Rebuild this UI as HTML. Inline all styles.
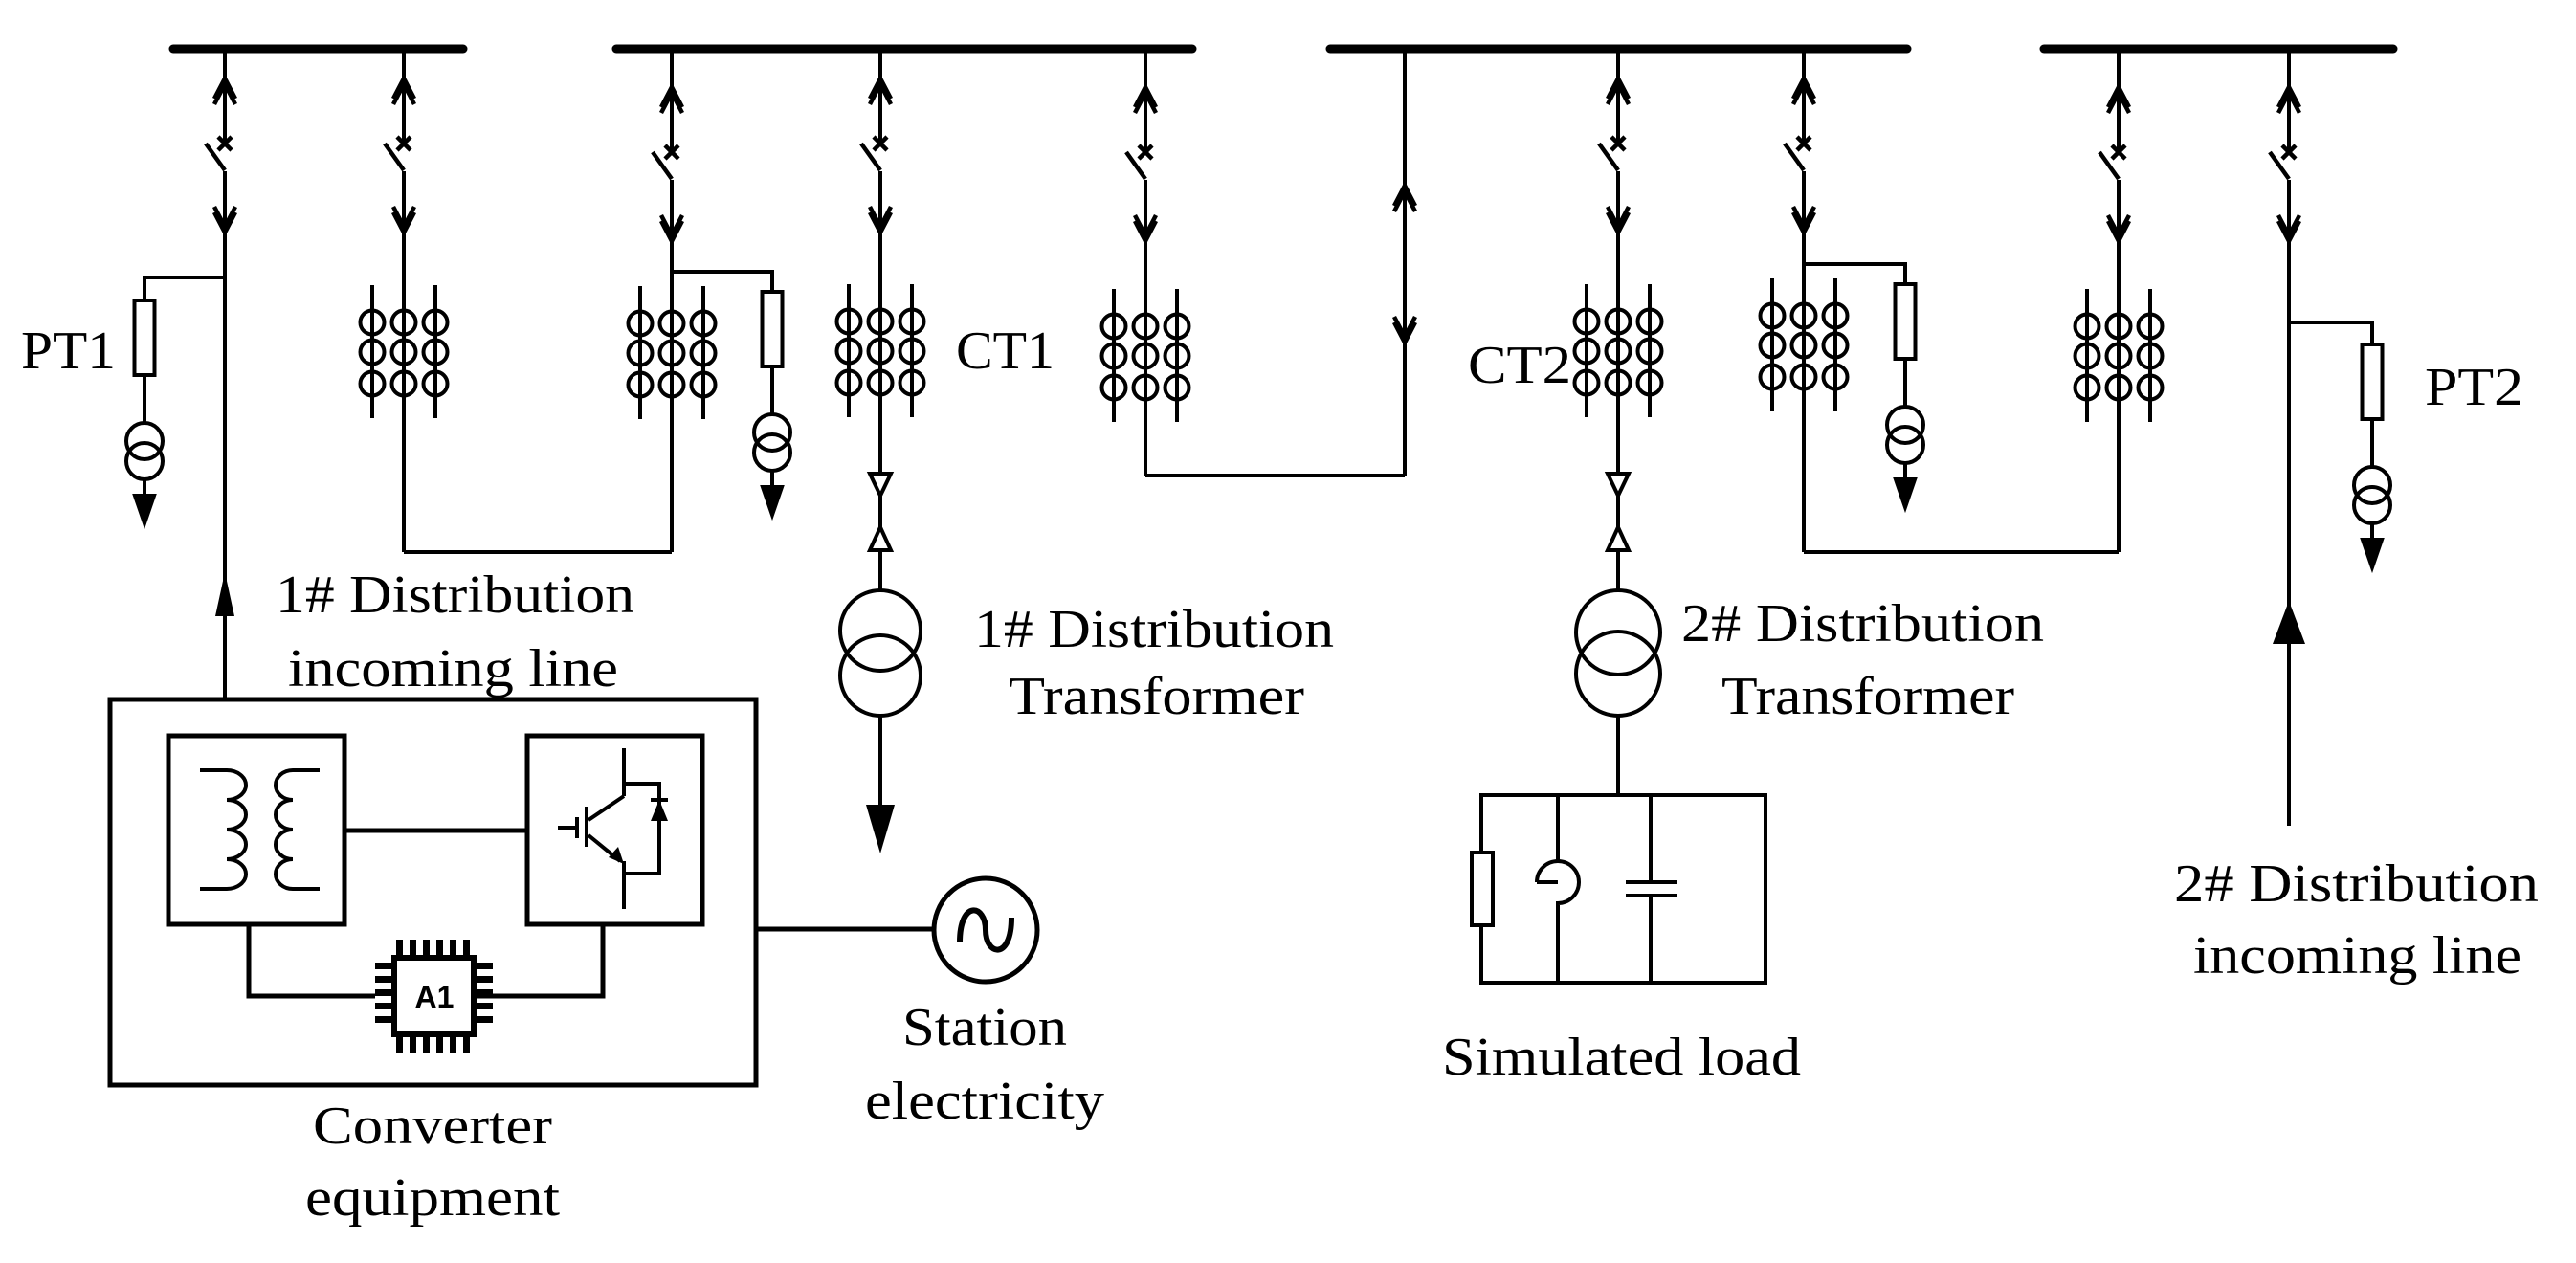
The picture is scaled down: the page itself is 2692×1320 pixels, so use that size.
<!DOCTYPE html>
<html><head><meta charset="utf-8"><style>
html,body{margin:0;padding:0;background:#fff;}
svg{display:block;}
text{font-family:"Liberation Serif",serif;font-size:56px;fill:#000;}
</style></head><body>
<svg width="2692" height="1320" viewBox="0 0 2692 1320" xmlns="http://www.w3.org/2000/svg">
<defs>
<g id="sw" fill="none" stroke="#000" stroke-width="4.5">
 <polyline points="-11,103 0,82 11,103"/><polyline points="-11,109 0,88 11,109"/>
 <line x1="-7" y1="143" x2="7" y2="157"/><line x1="7" y1="143" x2="-7" y2="157"/>
 <line x1="-20" y1="150" x2="0" y2="178"/>
 <polyline points="-11,222 0,243 11,222"/><polyline points="-11,216 0,237 11,216"/>
</g>
<g id="ct" fill="none" stroke="#000" stroke-width="4">
 <line x1="-33" y1="-70" x2="-33" y2="69"/><line x1="0" y1="-70" x2="0" y2="69"/><line x1="33" y1="-70" x2="33" y2="69"/>
 <circle cx="-33" cy="-31" r="12.5"/><circle cx="0" cy="-31" r="12.5"/><circle cx="33" cy="-31" r="12.5"/>
 <circle cx="-33" cy="0" r="12.5"/><circle cx="0" cy="0" r="12.5"/><circle cx="33" cy="0" r="12.5"/>
 <circle cx="-33" cy="33" r="12.5"/><circle cx="0" cy="33" r="12.5"/><circle cx="33" cy="33" r="12.5"/>
</g>
<g id="pt" fill="none" stroke="#000" stroke-width="4">
 <rect x="-10.5" y="0" width="21" height="78"/>
 <line x1="0" y1="78" x2="0" y2="128"/>
 <circle cx="0" cy="147" r="19"/><circle cx="0" cy="168" r="19"/>
 <line x1="0" y1="187" x2="0" y2="210"/>
 <polygon points="-10,204 10,204 0,233" fill="#000"/>
</g>
</defs>

<g stroke="#000" stroke-linecap="round" stroke-width="9">
<line x1="181" y1="51" x2="484" y2="51"/>
<line x1="644" y1="51" x2="1246" y2="51"/>
<line x1="1390" y1="51" x2="1993" y2="51"/>
<line x1="2136" y1="51" x2="2501" y2="51"/>
</g>

<g fill="none" stroke="#000" stroke-width="4">
<line x1="235" y1="50" x2="235" y2="149"/><line x1="235" y1="179" x2="235" y2="731"/>
<line x1="422" y1="50" x2="422" y2="149"/><line x1="422" y1="179" x2="422" y2="577"/>
<line x1="702" y1="50" x2="702" y2="158"/><line x1="702" y1="188" x2="702" y2="577"/>
<line x1="920" y1="50" x2="920" y2="149"/><line x1="920" y1="179" x2="920" y2="495"/>
<line x1="1197" y1="50" x2="1197" y2="158"/><line x1="1197" y1="188" x2="1197" y2="497"/>
<line x1="1468" y1="50" x2="1468" y2="497"/>
<line x1="1691" y1="50" x2="1691" y2="149"/><line x1="1691" y1="179" x2="1691" y2="495"/>
<line x1="1885" y1="50" x2="1885" y2="149"/><line x1="1885" y1="179" x2="1885" y2="577"/>
<line x1="2214" y1="50" x2="2214" y2="158"/><line x1="2214" y1="188" x2="2214" y2="577"/>
<line x1="2392" y1="50" x2="2392" y2="158"/><line x1="2392" y1="188" x2="2392" y2="863"/>
<polyline points="422,577 702,577"/>
<polyline points="1197,497 1468,497"/>
<polyline points="1885,577 2214,577"/>
<polyline points="235,290 151,290 151,314"/>
<polyline points="702,284 807,284 807,305"/>
<polyline points="1885,276 1991,276 1991,297"/>
<polyline points="2392,337 2479,337 2479,360"/>
</g>
<g fill="none" stroke="#000" stroke-width="4.5">
<polyline points="1457,215 1468,194 1479,215"/><polyline points="1457,221 1468,200 1479,221"/>
<polyline points="1457,337 1468,358 1479,337"/><polyline points="1457,331 1468,352 1479,331"/>
</g>
<g fill="none" stroke="#000" stroke-width="4">
<polygon points="909,495 931,495 920,518"/><line x1="920" y1="518" x2="920" y2="551"/>
<polygon points="920,551 909,575 931,575"/><line x1="920" y1="575" x2="920" y2="617"/>
<circle cx="920" cy="659" r="42"/><circle cx="920" cy="706" r="42"/>
<line x1="920" y1="748" x2="920" y2="845"/>
<polygon points="1680,495 1702,495 1691,518"/><line x1="1691" y1="518" x2="1691" y2="551"/>
<polygon points="1691,551 1680,575 1702,575"/><line x1="1691" y1="575" x2="1691" y2="617"/>
<circle cx="1691" cy="661" r="44"/><circle cx="1691" cy="704" r="44"/>
<line x1="1691" y1="748" x2="1691" y2="831"/>
</g>
<polygon points="905,841 935,841 920,892" fill="#000"/>
<polygon points="235,598 225,644 245,644" fill="#000"/>
<polygon points="2392,628 2375,673 2409,673" fill="#000"/>

<use href="#sw" x="235" y="0"/><use href="#sw" x="422" y="0"/><use href="#sw" x="702" y="9"/>
<use href="#sw" x="920" y="0"/><use href="#sw" x="1197" y="9"/><use href="#sw" x="1691" y="0"/>
<use href="#sw" x="1885" y="0"/><use href="#sw" x="2214" y="9"/><use href="#sw" x="2392" y="9"/>

<use href="#ct" x="422" y="368"/><use href="#ct" x="702" y="369"/><use href="#ct" x="920" y="367"/>
<use href="#ct" x="1197" y="372"/><use href="#ct" x="1691" y="367"/><use href="#ct" x="1885" y="361"/>
<use href="#ct" x="2214" y="372"/>

<use href="#pt" x="151" y="314"/><use href="#pt" x="807" y="305"/><use href="#pt" x="1991" y="297"/><use href="#pt" x="2479" y="360"/>

<g fill="none" stroke="#000" stroke-width="4">
<rect x="1548" y="831" width="297" height="196"/>
<rect x="1538" y="891" width="22" height="76" fill="#fff"/>
<line x1="1628" y1="831" x2="1628" y2="900"/>
<path d="M1606,922 A22,22 0 0 1 1628,900 A22,22 0 0 1 1628,944 L1628,1027"/>
<line x1="1606" y1="922" x2="1628" y2="922"/>
<line x1="1725" y1="831" x2="1725" y2="922"/><line x1="1725" y1="936" x2="1725" y2="1027"/>
<line x1="1699" y1="922" x2="1752" y2="922"/><line x1="1699" y1="936" x2="1752" y2="936"/>
</g>

<g fill="none" stroke="#000" stroke-width="5">
<rect x="115" y="731" width="675" height="403"/>
<rect x="176" y="769" width="184" height="197"/>
<rect x="551" y="769" width="183" height="197"/>
<line x1="360" y1="868" x2="551" y2="868"/>
<polyline points="260,966 260,1041 392,1041"/>
<polyline points="630,966 630,1041 495,1041"/>
<line x1="790" y1="971" x2="977" y2="971"/>
<circle cx="1030" cy="972" r="54"/>
<path d="M1003,985 C1003,940 1030,945 1030,972 C1030,999 1057,1004 1057,959" stroke-width="6"/>
</g>
<g fill="none" stroke="#000" stroke-width="4">
<path d="M209,805 H237 A20,15.5 0 0 1 237,836 A20,15.5 0 0 1 237,867 A20,15.5 0 0 1 237,898 A20,15.5 0 0 1 237,929 H209"/>
<path d="M334,805 H306 A18,15.5 0 0 0 306,836 A18,15.5 0 0 0 306,867 A18,15.5 0 0 0 306,898 A18,15.5 0 0 0 306,929 H334"/>
<line x1="652" y1="782" x2="652" y2="832"/>
<line x1="652" y1="832" x2="615" y2="857"/>
<line x1="615" y1="873" x2="648" y2="900"/>
<line x1="652" y1="900" x2="652" y2="950"/>
<line x1="613" y1="843" x2="613" y2="885"/>
<line x1="603" y1="854" x2="603" y2="876"/>
<line x1="583" y1="865" x2="603" y2="865"/>
<polyline points="652,819 689,819 689,913 652,913"/>
<line x1="680" y1="836" x2="698" y2="836"/>
</g>
<polygon points="689,836 680,858 698,858" fill="#000"/>
<polygon points="652,903 636,896 646,885" fill="#000"/>
<g fill="#000">
<rect x="414" y="982" width="7" height="20"/><rect x="428" y="982" width="7" height="20"/><rect x="442" y="982" width="7" height="20"/><rect x="456" y="982" width="7" height="20"/><rect x="470" y="982" width="7" height="20"/><rect x="484" y="982" width="7" height="20"/>
<rect x="414" y="1080" width="7" height="20"/><rect x="428" y="1080" width="7" height="20"/><rect x="442" y="1080" width="7" height="20"/><rect x="456" y="1080" width="7" height="20"/><rect x="470" y="1080" width="7" height="20"/><rect x="484" y="1080" width="7" height="20"/>
<rect x="392" y="1006" width="20" height="7"/><rect x="392" y="1020" width="20" height="7"/><rect x="392" y="1034" width="20" height="7"/><rect x="392" y="1048" width="20" height="7"/><rect x="392" y="1062" width="20" height="7"/>
<rect x="495" y="1006" width="20" height="7"/><rect x="495" y="1020" width="20" height="7"/><rect x="495" y="1034" width="20" height="7"/><rect x="495" y="1048" width="20" height="7"/><rect x="495" y="1062" width="20" height="7"/>
</g>
<rect x="412" y="1001" width="83" height="80" fill="#fff" stroke="#000" stroke-width="6"/>
<text x="454" y="1053" text-anchor="middle" style="font-family:'Liberation Sans',sans-serif;font-weight:bold;font-size:32px">A1</text>

<text x="22" y="385" textLength="99" lengthAdjust="spacingAndGlyphs">PT1</text>
<text x="288" y="640" textLength="375" lengthAdjust="spacingAndGlyphs">1# Distribution</text>
<text x="301" y="717" textLength="345" lengthAdjust="spacingAndGlyphs">incoming line</text>
<text x="999" y="385" textLength="103" lengthAdjust="spacingAndGlyphs">CT1</text>
<text x="1018" y="676" textLength="376" lengthAdjust="spacingAndGlyphs">1# Distribution</text>
<text x="1054" y="746" textLength="309" lengthAdjust="spacingAndGlyphs">Transformer</text>
<text x="1534" y="400" textLength="108" lengthAdjust="spacingAndGlyphs">CT2</text>
<text x="2534" y="423" textLength="103" lengthAdjust="spacingAndGlyphs">PT2</text>
<text x="1757" y="670" textLength="379" lengthAdjust="spacingAndGlyphs">2# Distribution</text>
<text x="1799" y="746" textLength="306" lengthAdjust="spacingAndGlyphs">Transformer</text>
<text x="1507" y="1123" textLength="375" lengthAdjust="spacingAndGlyphs">Simulated load</text>
<text x="943" y="1092" textLength="172" lengthAdjust="spacingAndGlyphs">Station</text>
<text x="904" y="1169" textLength="250" lengthAdjust="spacingAndGlyphs">electricity</text>
<text x="327" y="1195" textLength="250" lengthAdjust="spacingAndGlyphs">Converter</text>
<text x="319" y="1270" textLength="266" lengthAdjust="spacingAndGlyphs">equipment</text>
<text x="2272" y="942" textLength="381" lengthAdjust="spacingAndGlyphs">2# Distribution</text>
<text x="2292" y="1017" textLength="343" lengthAdjust="spacingAndGlyphs">incoming line</text>
</svg>
</body></html>
